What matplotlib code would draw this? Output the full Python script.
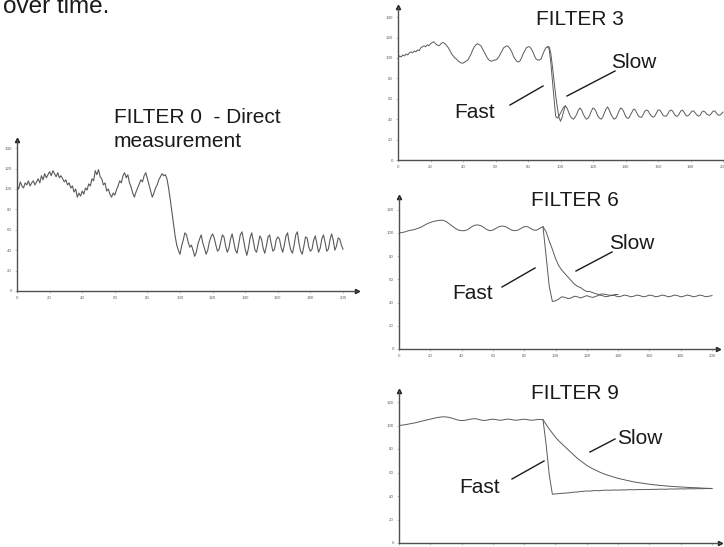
import numpy as np
import matplotlib
matplotlib.use("Agg")
import matplotlib.pyplot as plt
from matplotlib.lines import Line2D

plt.rcParams['font.family'] = ['Liberation Sans', 'DejaVu Sans']

W, H = 724, 547

# ---- data ----
# filter 0, direct measurement, one value per time step 0..200
f0_x = list(range(0, 201))
f0_y = [104, 100, 107, 103, 101, 106, 104, 108, 103, 106, 108,
        104, 107, 110, 106, 113, 109, 115, 111, 114, 117,
        113, 118, 115, 112, 116, 111, 113, 110, 107, 109,
        104, 106, 101, 103, 97, 100, 92, 96, 93, 98,
        95, 101, 99, 105, 103, 110, 108, 118, 114, 119,
        112, 110, 104, 106, 98, 100, 95, 92, 96, 94,
        99, 103, 108, 106, 113, 116, 111, 114, 106, 102,
        96, 92, 97, 101, 105, 109, 107, 113, 116, 110,
        104, 98, 92, 96, 101, 104, 109, 112, 115, 113,
        114, 110, 101, 90, 78, 66, 54, 45, 40, 36,
        44, 50, 57, 55, 48, 43, 45, 40, 34, 38,
        46, 51, 55, 47, 42, 36, 40, 48, 53, 56,
        52, 45, 39, 41, 48, 55, 53, 44, 38, 42,
        51, 56, 48, 40, 37, 46, 55, 58, 50, 41,
        35, 42, 52, 57, 49, 40, 38, 46, 54, 51,
        42, 37, 44, 53, 55, 46, 39, 41, 50, 53,
        51, 43, 38, 45, 54, 57, 47, 40, 37, 45,
        55, 58, 47, 39, 36, 44, 53, 52, 43, 39,
        41, 50, 54, 46, 38, 42, 51, 55, 48, 39,
        41, 50, 56, 50, 40, 44, 52, 51, 45, 41]

# filter 3
f3_x = list(range(0, 201))
f3_fast = [100, 102, 101, 103, 102, 104, 103, 105, 106, 105, 107,
           106, 108, 107, 110, 111, 112, 111, 113, 112, 114,
           115, 116, 114, 113, 112, 113, 115, 115, 114, 112,
           110, 107, 104, 102, 100, 99, 97, 96, 95, 95,
           96, 97, 98, 101, 104, 108, 111, 113, 114, 113,
           112, 109, 106, 103, 100, 98, 97, 97, 98, 98,
           99, 101, 104, 107, 110, 111, 112, 111, 109, 106,
           102, 99, 97, 96, 97, 100, 104, 107, 110, 111,
           111, 109, 106, 102, 99, 98, 98, 99, 103, 107,
           110, 111, 109, 96, 78, 60, 43, 41, 43, 46,
           49, 52, 53, 51, 47, 43, 41, 40, 42, 45,
           49, 51, 49, 45, 42, 40, 41, 44, 48, 51,
           50, 47, 43, 41, 40, 42, 46, 50, 52, 49,
           45, 42, 40, 41, 44, 48, 51, 50, 47, 43,
           41, 41, 44, 47, 50, 49, 46, 43, 42, 42,
           45, 48, 49, 48, 45, 43, 42, 43, 46, 49,
           49, 47, 44, 43, 43, 45, 48, 49, 48, 45,
           43, 43, 45, 48, 49, 47, 44, 43, 44, 46,
           48, 48, 46, 44, 43, 44, 47, 48, 47, 45,
           44, 44, 46, 48, 48, 46, 44, 44, 45, 47]
f3_slow_x = [92, 93, 94, 95, 96, 97, 98, 99, 100, 101, 102, 103]
f3_slow = [111, 111, 105, 92, 78, 64, 52, 42, 38, 42, 48, 53]

# filter 6
f6_x = list(range(0, 201, 2))
f6_fast = [100, 100.5, 101, 102, 102.5, 103, 104, 105, 106.5, 108, 109,
           110, 110.5, 111, 111, 110, 108, 106, 104, 102.5, 102,
           102, 103, 105, 106.5, 107, 106.5, 105, 103, 102, 102.5,
           104, 105.5, 106, 105.5, 104, 102.5, 102, 102.5, 104, 105.5,
           105.5, 104, 102.5, 102.5, 104, 105.5, 80, 54, 41, 41.5,
           43, 45, 44.5, 43.5, 44, 45.5, 45, 44, 45, 46,
           45, 44.5, 45.5, 46.5, 46, 45, 45.5, 46.5, 46, 45,
           45.5, 46.5, 46, 45, 45.5, 46.5, 46, 45, 45.5, 46.5,
           46, 45, 45.5, 46.5, 46, 45, 45.5, 46.5, 46, 45,
           45.5, 46.5, 46, 45, 45.5, 46.5, 46, 45, 45.5, 46]
f6_slow_x = list(range(92, 141, 2))
f6_slow = [105.5, 101, 93, 86, 78, 72, 68, 65, 62, 59, 56, 54, 53,
           51, 49.5, 49.5, 48.5, 47.5, 47, 47.5, 47, 46.5, 46, 47, 47]

# filter 9
f9_x = list(range(0, 201, 2))
f9_fast = [100, 100.3, 100.7, 101.2, 101.7, 102.2, 102.8, 103.5, 104.2, 104.8, 105.4,
           106, 106.6, 107.1, 107.4, 107.3, 106.9, 106.2, 105.3, 104.5, 104.2,
           104.4, 104.9, 105.5, 105.8, 105.5, 104.8, 104.3, 104.5, 105.1, 105.4,
           105, 104.5, 104.6, 105.2, 105.5, 105, 104.5, 104.6, 105.1, 105.4,
           105, 104.5, 104.6, 105, 105.2, 105, 84, 58, 41.5, 41.8,
           42, 42.2, 42.5, 42.6, 43, 43.3, 43.4, 43.8, 44, 44.3,
           44.2, 44.5, 44.6, 44.5, 44.8, 45, 44.9, 45, 45.1, 45,
           45.2, 45.1, 45.3, 45.4, 45.3, 45.4, 45.5, 45.4, 45.6, 45.5,
           45.7, 45.6, 45.8, 45.8, 45.7, 45.9, 46, 45.9, 46, 46.1,
           46, 46.1, 46.2, 46.1, 46.2, 46.3, 46.2, 46.3, 46.4, 46.3]
f9_slow_x = list(range(92, 201, 2))
f9_slow = [105, 101, 97, 93.5, 90, 87, 84.5, 82, 79.5, 77, 74.5, 72, 70, 68, 66,
           64.5, 63, 61.8, 60.5, 59.3, 58.3, 57.5, 56.6, 55.8, 55, 54.4, 53.8,
           53.2, 52.6, 52, 51.6, 51.2, 50.8, 50.4, 50, 49.7, 49.4, 49.1, 48.9,
           48.6, 48.4, 48.2, 48, 47.8, 47.7, 47.5, 47.4, 47.2, 47.1, 47, 46.9,
           46.7, 46.6, 46.5, 46.4]

x_ticks = list(range(0, 201, 20))

LINE = '#5a5a5a'
AXC = '#505050'


def px_axes(left, top, width, height):
    return fig.add_axes([left / W, 1 - (top + height) / H, width / W, height / H])


def style(ax, xmax, ymax, yticks, xlabels=True):
    ax.set_xlim(0, xmax)
    ax.set_ylim(0, ymax)
    for s in ['top', 'right']:
        ax.spines[s].set_visible(False)
    for s in ['left', 'bottom']:
        ax.spines[s].set_color(AXC)
        ax.spines[s].set_linewidth(1.0)
    ax.set_xticks(x_ticks)
    ax.set_yticks(yticks)
    ax.tick_params(length=1.2, width=0.4, color='#999999', labelsize=3.2,
                   labelcolor='#666666', pad=2.5, labelbottom=xlabels)
    ax.patch.set_alpha(0)
    ax.plot(1, 0, ">", transform=ax.get_yaxis_transform(), clip_on=False,
            ms=3, color='#222222')
    ax.plot(0, 1, "^", transform=ax.get_xaxis_transform(), clip_on=False,
            ms=3, color='#222222')


def ftext(x, y, s, size=15, ha='left'):
    fig.text(x / W, 1 - y / H, s, fontsize=size, ha=ha, va='baseline', color='#1a1a1a')


def fline(x1, y1, x2, y2):
    fig.add_artist(Line2D([x1 / W, x2 / W], [1 - y1 / H, 1 - y2 / H],
                          transform=fig.transFigure, color='#1a1a1a', lw=1.0))


fig = plt.figure(figsize=(W / 100, H / 100), dpi=100)

# filter 0
ax0 = px_axes(17, 140, 340, 151)
ax0.plot(f0_x, f0_y, color=LINE, lw=0.8)
style(ax0, 340 / 1.63, 151 / 1.02, list(range(0, 141, 20)))

# filter 3 (its x axis runs past the right edge of the page)
ax3 = px_axes(398, 7, 336, 153)
ax3.plot(f3_x, f3_fast, color=LINE, lw=0.7)
ax3.plot(f3_slow_x, f3_slow, color=LINE, lw=0.7)
style(ax3, 336 / 1.625, 153 / 1.02, list(range(0, 141, 20)))

# filter 6
ax6 = px_axes(399, 197, 319, 152)
ax6.plot(f6_x, f6_fast, color=LINE, lw=0.7)
ax6.plot(f6_slow_x, f6_slow, color=LINE, lw=0.7)
style(ax6, 319 / 1.565, 152 / 1.16, list(range(0, 121, 20)))

# filter 9
ax9 = px_axes(399, 391, 321, 152)
ax9.plot(f9_x, f9_fast, color=LINE, lw=0.7)
ax9.plot(f9_slow_x, f9_slow, color=LINE, lw=0.7)
style(ax9, 321 / 1.565, 152 / 1.175, list(range(0, 121, 20)), xlabels=False)

# texts
ftext(3, 13, "over time.", size=17.5)
ftext(114, 123, "FILTER 0  - Direct")
ftext(114, 147, "measurement")

ftext(580, 25, "FILTER 3", ha='center')
ftext(475, 118, "Fast", ha='center')
ftext(634, 68, "Slow", ha='center')
fline(510, 105, 543, 86)
fline(567, 96, 615, 71)

ftext(575, 206, "FILTER 6", ha='center')
ftext(473, 299, "Fast", ha='center')
ftext(632, 249, "Slow", ha='center')
fline(502, 287, 535, 268)
fline(576, 271, 612, 252)

ftext(575, 399, "FILTER 9", ha='center')
ftext(480, 493, "Fast", ha='center')
ftext(640, 444, "Slow", ha='center')
fline(512, 479, 544, 461)
fline(590, 452, 615, 439)

fig.savefig("out.png", dpi=100)
